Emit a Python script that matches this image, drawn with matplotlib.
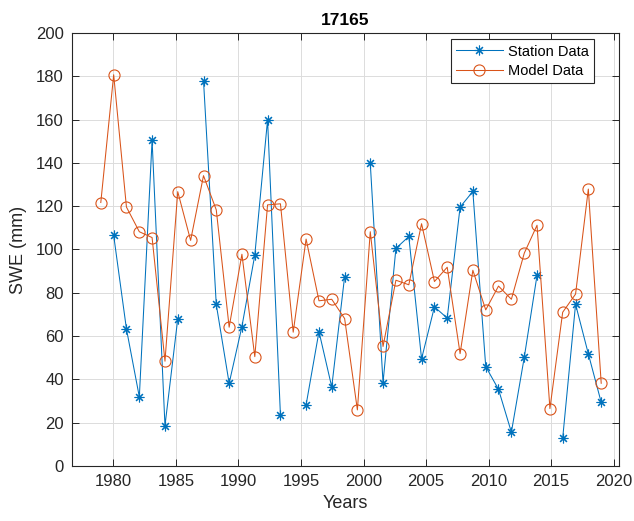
import numpy as np
import matplotlib.pyplot as plt

plt.rcParams['font.family'] = ['Liberation Sans', 'DejaVu Sans']

# x positions of the 40 samples (evenly spread between 1979 and 2019)
years = [1979.00, 1980.03, 1981.05, 1982.08, 1983.10, 1984.13, 1985.15, 1986.18,
         1987.21, 1988.23, 1989.26, 1990.28, 1991.31, 1992.33, 1993.36, 1994.38,
         1995.41, 1996.44, 1997.46, 1998.49, 1999.51, 2000.54, 2001.56, 2002.59,
         2003.62, 2004.64, 2005.67, 2006.69, 2007.72, 2008.74, 2009.77, 2010.79,
         2011.82, 2012.85, 2013.87, 2014.90, 2015.92, 2016.95, 2017.97, 2019.00]

nan = np.nan
station = [nan, 106.5, 63.3, 31.9, 150.4, 18.6, 67.9, nan,
           178.0, 74.6, 38.2, 64.4, 97.4, 159.9, 23.4, nan,
           28.2, 62.1, 36.5, 87.5, nan, 139.9, 38.5, 100.5,
           106.0, 49.5, 73.5, 68.3, 119.6, 126.8, 45.9, 35.4,
           15.6, 50.2, 88.1, nan, 12.8, 74.7, 51.8, 29.4]

model = [121.7, 180.7, 119.6, 108.2, 105.5, 48.4, 126.7, 104.2,
         134.1, 118.3, 64.1, 97.8, 50.5, 120.6, 121.1, 61.8,
         104.8, 76.3, 77.0, 68.1, 25.9, 108.2, 55.2, 85.8,
         83.7, 111.9, 85.2, 91.8, 51.9, 90.4, 72.1, 83.1,
         77.0, 98.3, 111.2, 26.5, 71.0, 79.4, 127.9, 38.2]

axcol = '#262626'

fig = plt.figure(figsize=(6.34, 5.21), dpi=100)
ax = fig.add_axes([0.1136, 0.1056, 0.8627, 0.8311])

ax.plot(years, station, color='#0072BD', lw=0.75, marker=(8, 2, 0), ms=7,
        mew=0.8, label='Station Data')
ax.plot(years, model, color='#D95319', lw=0.75, marker='o', ms=8,
        mfc='none', mew=0.8, label='Model Data')

ax.set_xlim(1976.7, 2020.42)
ax.set_ylim(0, 200)
ax.set_xticks(np.arange(1980, 2021, 5))
ax.set_yticks(np.arange(0, 201, 20))
ax.grid(True, color='#dcdcdc', lw=0.7)
ax.set_axisbelow(True)

ax.tick_params(direction='in', top=True, right=True, length=5, width=0.7,
               colors=axcol, labelsize=12, pad=6)
for s in ax.spines.values():
    s.set_color(axcol)
    s.set_linewidth(0.8)

ax.set_title('17165', fontsize=12.5, fontweight='bold', color='black', pad=6)
ax.set_xlabel('Years', fontsize=13, color=axcol, labelpad=4)
ax.set_ylabel('SWE (mm)', fontsize=13, color=axcol, labelpad=6)

leg = ax.legend(loc='upper right', bbox_to_anchor=(0.955, 0.985), fontsize=10.5,
                fancybox=False, framealpha=1, edgecolor=axcol,
                handlelength=3.2, borderpad=0.35, labelspacing=0.35,
                handletextpad=0.4, borderaxespad=0)
leg.get_frame().set_linewidth(0.8)

fig.savefig('out.png', dpi=100)
